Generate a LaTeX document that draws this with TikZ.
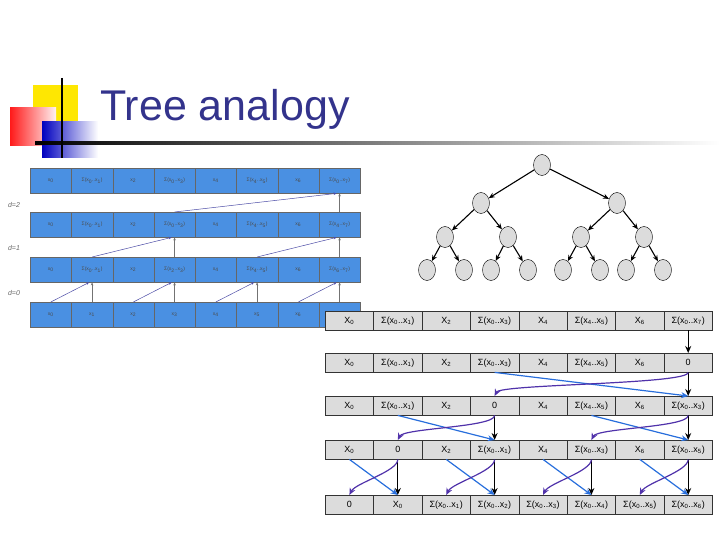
\documentclass[tikz,border=0pt]{standalone}
\usepackage{fontspec}
\setmainfont{Liberation Sans}
\usetikzlibrary{arrows.meta,shapes.geometric,positioning}
\newcommand\Sg[2]{Σ(x\textsubscript{#1}..x\textsubscript{#2})}
\newcommand\Xs[1]{X\textsubscript{#1}}
\newcommand\xs[1]{x\textsubscript{#1}}
\definecolor{titleblue}{RGB}{51,51,140}
\definecolor{cellblue}{RGB}{74,144,226}
\definecolor{cellgray}{RGB}{220,220,220}
\definecolor{arrblue}{RGB}{40,110,220}
\definecolor{arrpurple}{RGB}{80,50,170}
\tikzset{
  lcell/.style={draw=black!60,fill=cellblue,minimum width=41.25pt,minimum height=25pt,inner sep=0pt,font=\fontsize{5}{6}\selectfont,text=black!70,anchor=north west},
  rcell/.style={draw=black!80,fill=cellgray,minimum width=48.4pt,minimum height=19pt,inner sep=0pt,font=\fontsize{9}{10}\selectfont,anchor=north west},
  tnode/.style={ellipse,draw=black,fill=cellgray,minimum width=17pt,minimum height=21pt,inner sep=0pt},
  tedge/.style={-{Stealth[length=6pt,width=5pt]},line width=1.1pt},
  larr/.style={-{Stealth[length=3pt,width=2.5pt]},draw=black!55,line width=0.5pt},
  larrd/.style={-{Stealth[length=3pt,width=2.5pt]},draw=blue!50!black!70,line width=0.5pt},
  rblack/.style={-{Stealth[length=7pt,width=6pt]},line width=1.2pt},
  rblue/.style={-{Stealth[length=7pt,width=6pt]},draw=arrblue,line width=1.2pt},
  rpurple/.style={-{Stealth[length=7pt,width=6pt]},draw=arrpurple,line width=1.2pt},
}
\begin{document}
\begin{tikzpicture}[x=1pt,y=-1pt]
\useasboundingbox (0,0) rectangle (720,540);
% decoration
\fill[yellow!90!orange] (33,85) rectangle (78,122);
\shade[left color=red!90,right color=red!5] (10,108) rectangle (56,146);
\shade[left color=blue!75!black,right color=white] (42,122) rectangle (98,158);
\shade[left color=black,right color=white] (35,142) rectangle (720,144.5);
\draw[line width=1.6pt] (62,78) -- (62,158);
\node[anchor=base west,text=titleblue,font=\fontsize{43}{46}\selectfont,inner sep=0pt] (title) at (100,121) {Tree analogy};
% left table
\foreach \r/\y/\labs in {0/168/{\xs{0},\Sg{0}{1},\xs{2},\Sg{0}{3},\xs{4},\Sg{4}{5},\xs{6},\Sg{0}{7}},
  1/212/{\xs{0},\Sg{0}{1},\xs{2},\Sg{0}{3},\xs{4},\Sg{4}{5},\xs{6},\Sg{4}{7}},
  2/257/{\xs{0},\Sg{0}{1},\xs{2},\Sg{2}{3},\xs{4},\Sg{4}{5},\xs{6},\Sg{6}{7}},
  3/302/{\xs{0},\xs{1},\xs{2},\xs{3},\xs{4},\xs{5},\xs{6},\xs{7}}}{
  \foreach \t [count=\c from 0] in \labs {
    \node[lcell] (L-\r-\c) at ({30+41.25*\c},\y) {\t};
  }
}
\node[font=\fontsize{7}{8}\selectfont\itshape,text=black!60] (d2) at (14,205) {d=2};
\node[font=\fontsize{7}{8}\selectfont\itshape,text=black!60] (d1) at (14,248) {d=1};
\node[font=\fontsize{7}{8}\selectfont\itshape,text=black!60] (d0) at (14,293) {d=0};
\foreach \a/\b in {0/1,2/3,4/5,6/7}{
  \draw[larr] (L-3-\b.north) -- (L-2-\b.south);
  \draw[larrd] (L-3-\a.north) -- ([xshift=-3pt]L-2-\b.south);
}
\foreach \a/\b in {1/3,5/7}{
  \draw[larr] (L-2-\b.north) -- (L-1-\b.south);
  \draw[larrd] (L-2-\a.north) -- ([xshift=-3pt]L-1-\b.south);
}
\draw[larr] (L-1-7.north) -- (L-0-7.south);
\draw[larrd] (L-1-3.north) -- ([xshift=-3pt]L-0-7.south);
% tree
\node[tnode] (t0) at (542,165) {};
\node[tnode] (t1) at (481,203) {};
\node[tnode] (t2) at (617,203) {};
\node[tnode] (t3) at (445,237) {};
\node[tnode] (t4) at (508,237) {};
\node[tnode] (t5) at (581,237) {};
\node[tnode] (t6) at (644,237) {};
\foreach \i/\x in {7/427,8/464,9/491,10/528,11/563,12/600,13/626,14/663}{
  \node[tnode] (t\i) at (\x,270) {};
}
\foreach \p/\c in {0/1,0/2,1/3,1/4,2/5,2/6,3/7,3/8,4/9,4/10,5/11,5/12,6/13,6/14}{
  \draw[tedge] (t\p) -- (t\c);
}
% right table
\foreach \r/\y/\labs in {0/311/{\Xs{0},\Sg{0}{1},\Xs{2},\Sg{0}{3},\Xs{4},\Sg{4}{5},\Xs{6},\Sg{0}{7}},
  1/353/{\Xs{0},\Sg{0}{1},\Xs{2},\Sg{0}{3},\Xs{4},\Sg{4}{5},\Xs{6},0},
  2/396/{\Xs{0},\Sg{0}{1},\Xs{2},0,\Xs{4},\Sg{4}{5},\Xs{6},\Sg{0}{3}},
  3/440/{\Xs{0},0,\Xs{2},\Sg{0}{1},\Xs{4},\Sg{0}{3},\Xs{6},\Sg{0}{5}},
  4/495/{0,\Xs{0},\Sg{0}{1},\Sg{0}{2},\Sg{0}{3},\Sg{0}{4},\Sg{0}{5},\Sg{0}{6}}}{
  \foreach \t [count=\c from 0] in \labs {
    \node[rcell] (R-\r-\c) at ({325+48.4*\c},\y) {\t};
  }
}
\draw[rblack] (R-0-7.south) -- (R-1-7.north);
\newcommand\swapstep[3]{% row, left cell, right cell
  \pgfmathtruncatemacro\nr{#1+1}
  \draw[rblack] (R-#1-#3.south) -- (R-\nr-#3.north);
  \draw[rblue] (R-#1-#2.south) -- (R-\nr-#3.north);
  \draw[rpurple] (R-#1-#3.south) .. controls ([yshift=-12pt]R-#1-#3.south) and ([xshift=6pt,yshift=12pt]R-\nr-#2.north) .. (R-\nr-#2.north);
}
\swapstep{1}{3}{7}
\swapstep{2}{1}{3}
\swapstep{2}{5}{7}
\swapstep{3}{0}{1}
\swapstep{3}{2}{3}
\swapstep{3}{4}{5}
\swapstep{3}{6}{7}
\end{tikzpicture}
\end{document}
